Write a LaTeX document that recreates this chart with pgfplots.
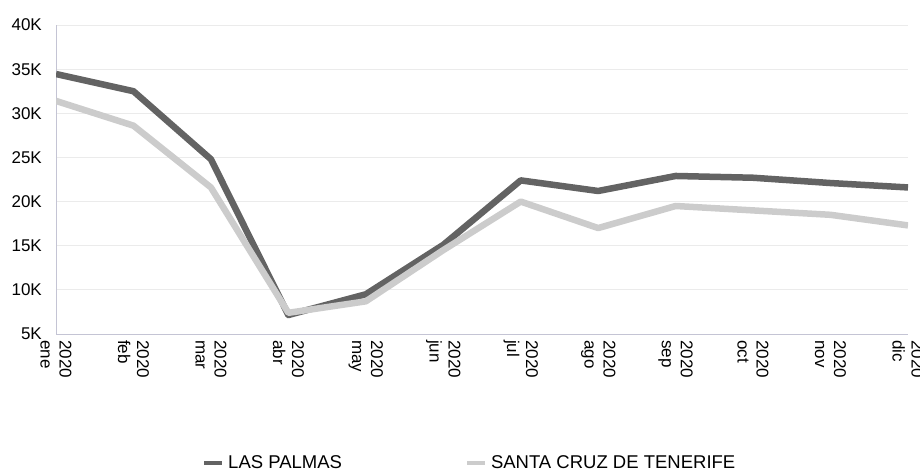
\documentclass[border=0pt]{standalone}
\usepackage{pgfplots}
\pgfplotsset{compat=1.18}
\usepackage{fontspec}
\setmainfont{Liberation Sans}
\definecolor{darkline}{HTML}{636363}
\definecolor{lightline}{HTML}{CCCCCC}
\definecolor{gridcol}{HTML}{EBEBEB}
\definecolor{axiscol}{HTML}{C4C4D4}
\begin{document}
\begin{tikzpicture}[x=1pt,y=1pt]
\useasboundingbox (0,0) rectangle (920,475);
\begin{axis}[
  at={(56pt,141pt)}, anchor=south west,
  scale only axis, width=852pt, height=309pt,
  xmin=0, xmax=11, ymin=5000, ymax=40000,
  scaled y ticks=false,
  axis lines*=left,
  axis line style={draw=axiscol, line width=1pt, -},
  ymajorgrids, grid style={draw=gridcol, line width=1pt},
  major tick length=0pt,
  xtick={0,...,11},
  xticklabels={{2020\\ene},{2020\\feb},{2020\\mar},{2020\\abr},{2020\\may},{2020\\jun},{2020\\jul},{2020\\ago},{2020\\sep},{2020\\oct},{2020\\nov},{2020\\dic}},
  xticklabel style={rotate=-90, anchor=west, align=left, font=\fontsize{17}{19}\selectfont, inner xsep=9pt, inner ysep=0pt, xshift=-3pt},
  ytick={5000,10000,...,40000},
  yticklabels={5K,10K,15K,20K,25K,30K,35K,40K},
  yticklabel style={font=\fontsize{17}{19}\selectfont, inner xsep=14pt},
  legend columns=2,
  legend style={at={(0.1714,-0.4175)}, anchor=west, draw=none, fill=none, inner sep=0pt,
    font=\fontsize{18.5}{20}\selectfont,
    /tikz/every odd column/.append style={column sep=2pt},
    /tikz/every even column/.append style={column sep=121pt}},
  legend cell align=left,
  legend image code/.code={\draw[#1, line width=4pt] (0pt,0pt) -- (18pt,0pt);},
]
\addplot[darkline, line width=6.5pt, line join=round] coordinates {
 (0,34450) (1,32500) (2,24800) (3,7150) (4,9500) (5,15100)
 (6,22400) (7,21200) (8,22900) (9,22700) (10,22100) (11,21600)};
\addlegendentry{LAS PALMAS}
\addplot[lightline, line width=6.5pt, line join=round] coordinates {
 (0,31400) (1,28600) (2,21600) (3,7400) (4,8700) (5,14500)
 (6,20000) (7,17000) (8,19500) (9,19000) (10,18500) (11,17300)};
\addlegendentry{SANTA CRUZ DE TENERIFE}
\end{axis}
\end{tikzpicture}
\end{document}
